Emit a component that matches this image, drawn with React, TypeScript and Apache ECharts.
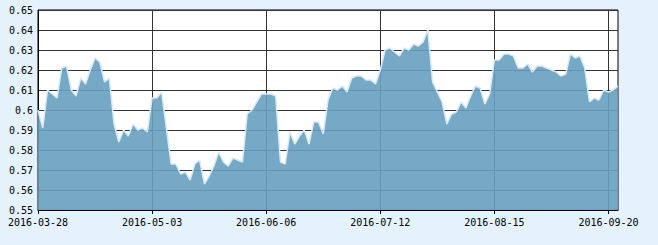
import React, { useEffect, useRef } from "react";
import * as echarts from "echarts";

const dates: string[] = [
  "2016-03-28", "2016-03-29", "2016-03-30", "2016-03-31",
  "2016-04-01", "2016-04-05", "2016-04-06", "2016-04-07", "2016-04-08",
  "2016-04-11", "2016-04-12", "2016-04-13", "2016-04-14", "2016-04-15",
  "2016-04-18", "2016-04-19", "2016-04-20", "2016-04-21", "2016-04-22",
  "2016-04-25", "2016-04-26", "2016-04-27", "2016-04-28", "2016-04-29",
  "2016-05-03", "2016-05-04", "2016-05-05", "2016-05-06",
  "2016-05-09", "2016-05-10", "2016-05-11", "2016-05-12", "2016-05-13",
  "2016-05-16", "2016-05-17", "2016-05-18", "2016-05-19", "2016-05-20",
  "2016-05-23", "2016-05-24", "2016-05-25", "2016-05-26", "2016-05-27",
  "2016-05-30", "2016-05-31", "2016-06-01", "2016-06-02", "2016-06-03",
  "2016-06-06", "2016-06-07", "2016-06-08",
  "2016-06-13", "2016-06-14", "2016-06-15", "2016-06-16", "2016-06-17",
  "2016-06-20", "2016-06-21", "2016-06-22", "2016-06-23", "2016-06-24",
  "2016-06-27", "2016-06-28", "2016-06-29", "2016-06-30", "2016-07-01",
  "2016-07-04", "2016-07-05", "2016-07-06", "2016-07-07", "2016-07-08",
  "2016-07-11", "2016-07-12", "2016-07-13", "2016-07-14", "2016-07-15",
  "2016-07-18", "2016-07-19", "2016-07-20", "2016-07-21", "2016-07-22",
  "2016-07-25", "2016-07-26", "2016-07-27", "2016-07-28", "2016-07-29",
  "2016-08-01", "2016-08-02", "2016-08-03", "2016-08-04", "2016-08-05",
  "2016-08-08", "2016-08-09", "2016-08-10", "2016-08-11", "2016-08-12",
  "2016-08-15", "2016-08-16", "2016-08-17", "2016-08-18", "2016-08-19",
  "2016-08-22", "2016-08-23", "2016-08-24", "2016-08-25", "2016-08-26",
  "2016-08-29", "2016-08-30", "2016-08-31", "2016-09-01", "2016-09-02",
  "2016-09-05", "2016-09-06", "2016-09-07", "2016-09-08", "2016-09-09",
  "2016-09-12", "2016-09-13", "2016-09-14",
  "2016-09-19", "2016-09-20", "2016-09-21", "2016-09-22",
];

const values: number[] = [
  0.600, 0.591, 0.610, 0.608, 0.606, 0.621, 0.622, 0.610, 0.607, 0.616,
  0.613, 0.620, 0.626, 0.624, 0.614, 0.616, 0.593, 0.584, 0.590, 0.587,
  0.593, 0.590, 0.591, 0.589, 0.606, 0.606, 0.609, 0.591, 0.573, 0.573,
  0.568, 0.569, 0.565, 0.573, 0.575, 0.563, 0.567, 0.572, 0.579, 0.574,
  0.572, 0.576, 0.575, 0.574, 0.598, 0.600, 0.604, 0.608, 0.608, 0.608,
  0.607, 0.574, 0.573, 0.589, 0.583, 0.587, 0.590, 0.583, 0.594, 0.594,
  0.588, 0.605, 0.611, 0.610, 0.612, 0.609, 0.616, 0.617, 0.617, 0.615,
  0.615, 0.613, 0.620, 0.630, 0.631, 0.629, 0.627, 0.631, 0.630, 0.633,
  0.632, 0.634, 0.640, 0.614, 0.609, 0.604, 0.593, 0.598, 0.599, 0.604,
  0.601, 0.607, 0.612, 0.611, 0.603, 0.608, 0.625, 0.625, 0.628, 0.628,
  0.627, 0.621, 0.621, 0.623, 0.619, 0.622, 0.622, 0.621, 0.620, 0.619,
  0.617, 0.618, 0.628, 0.626, 0.627, 0.621, 0.604, 0.606, 0.605, 0.610,
  0.609, 0.610, 0.612,
];

const yMin = 0.55;
const yMax = 0.65;
const yStep = 0.01;
const labelEvery = 24;

export default function App() {
  const ref = useRef<HTMLDivElement>(null);

  useEffect(() => {
    if (!ref.current) return;
    const chart = echarts.init(ref.current, undefined, { renderer: "svg" });
    const font = "'DejaVu Sans Mono', 'Liberation Mono', monospace";
    chart.setOption({
      animation: false,
      backgroundColor: "#e6f2fb",
      grid: {
        left: 38,
        top: 10,
        width: 580,
        height: 200,
        show: true,
        backgroundColor: "#ffffff",
        borderColor: "#000000",
        borderWidth: 1,
      },
      xAxis: {
        type: "category",
        data: dates,
        boundaryGap: false,
        axisLine: { show: true, lineStyle: { color: "#000", width: 1 } },
        axisTick: {
          show: true,
          interval: labelEvery - 1,
          length: 4,
          lineStyle: { color: "#000" },
        },
        axisLabel: {
          interval: labelEvery - 1,
          margin: 7,
          color: "#000",
          fontFamily: font,
          fontSize: 10,
        },
        splitLine: {
          show: true,
          interval: labelEvery - 1,
          lineStyle: { color: "#333", width: 1 },
        },
      },
      yAxis: {
        type: "value",
        min: yMin,
        max: yMax,
        interval: yStep,
        axisLine: { show: true, lineStyle: { color: "#000", width: 1 } },
        axisTick: { show: false },
        axisLabel: {
          margin: 5,
          color: "#000",
          fontFamily: font,
          fontSize: 10,
        },
        splitLine: { show: true, lineStyle: { color: "#333", width: 1 } },
      },
      series: [
        {
          type: "line",
          data: values,
          showSymbol: false,
          symbol: "none",
          lineStyle: { color: "#d6ebf9", width: 1.5 },
          areaStyle: { color: "#67a0c0", opacity: 0.9 },
        },
      ],
    });
    return () => chart.dispose();
  }, []);

  return (
    <div
      ref={ref}
      style={{ position: "fixed", left: 0, top: 0, width: 658, height: 245 }}
    />
  );
}
